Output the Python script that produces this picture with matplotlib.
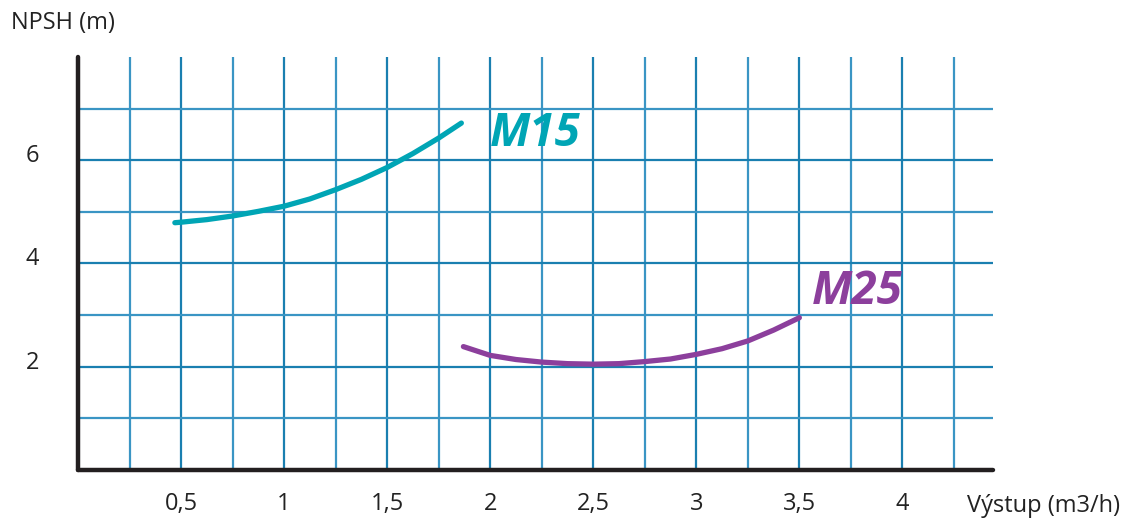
import numpy as np
import matplotlib.pyplot as plt
from matplotlib.transforms import ScaledTranslation

plt.rcParams['font.family'] = ['Open Sans', 'DejaVu Sans']

# NPSH curves
m15_q = [0.47, 0.5, 0.625, 0.75, 0.875, 1.0, 1.125, 1.25, 1.375, 1.5, 1.625, 1.75, 1.86]
m15_h = [4.79, 4.80, 4.85, 4.92, 5.01, 5.11, 5.25, 5.43, 5.63, 5.86, 6.13, 6.43, 6.72]
m25_q = [1.87, 2.0, 2.125, 2.25, 2.375, 2.5, 2.625, 2.75, 2.875, 3.0, 3.125, 3.25, 3.375, 3.5]
m25_h = [2.39, 2.22, 2.14, 2.09, 2.06, 2.05, 2.06, 2.10, 2.15, 2.24, 2.35, 2.50, 2.71, 2.95]

xticks = [0.5, 1, 1.5, 2, 2.5, 3, 3.5, 4]
xticklabels = ['0,5', '1', '1,5', '2', '2,5', '3', '3,5', '4']
yticks = [2, 4, 6]

teal = '#00a5b5'
purple = '#8c3f9c'
grid_dark = '#1a7fb0'
grid_light = '#3a95c4'

fig = plt.figure(figsize=(11.27, 5.21), dpi=100)
ax = fig.add_axes([0.0692, 0.0979, 0.8120, 0.7927])

ax.set_xlim(0, 4.44)
ax.set_ylim(0, 8.0)

# grid: every 0.25 on x, every 1 on y
for i, q in enumerate(np.arange(0.25, 4.3, 0.25)):
    ax.axvline(q, color=grid_dark if i % 2 == 1 else grid_light, lw=1.6, zorder=1)
for j, h in enumerate(range(1, 8)):
    ax.axhline(h, color=grid_dark if j % 2 == 1 else grid_light, lw=1.6, zorder=1)

ax.plot(m15_q, m15_h, color=teal, lw=3.8, solid_capstyle='round',
        solid_joinstyle='round', zorder=3)
ax.plot(m25_q, m25_h, color=purple, lw=3.8, solid_capstyle='round',
        solid_joinstyle='round', zorder=3)

ax.text(2.0, 6.52, 'M15', color=teal, fontsize=33, fontweight='bold',
        fontstyle='italic', va='center', ha='left', zorder=4)
ax.text(3.56, 3.46, 'M25', color=purple, fontsize=33, fontweight='bold',
        fontstyle='italic', va='center', ha='left', zorder=4)

ax.set_xticks(xticks)
ax.set_xticklabels(xticklabels)
ax.set_yticks(yticks)
ax.tick_params(length=0, labelsize=17, colors='#222222')
ax.tick_params(axis='x', pad=16)
ax.tick_params(axis='y', pad=28)
shift = ScaledTranslation(0, 7 / 100, fig.dpi_scale_trans)
for lab in ax.get_yticklabels():
    lab.set_transform(lab.get_transform() + shift)

for s in ['top', 'right']:
    ax.spines[s].set_visible(False)
for s in ['left', 'bottom']:
    ax.spines[s].set_linewidth(3.2)
    ax.spines[s].set_color('#231f20')
    ax.spines[s].set_capstyle('round')
    ax.spines[s].set_zorder(5)

fig.text(0.010, 0.956, 'NPSH (m)', fontsize=17, color='#222222', va='center', ha='left')
fig.text(0.994, 0.028, 'Výstup (m3/h)', fontsize=17, color='#222222', va='center', ha='right')

fig.savefig('out.png', dpi=100)
